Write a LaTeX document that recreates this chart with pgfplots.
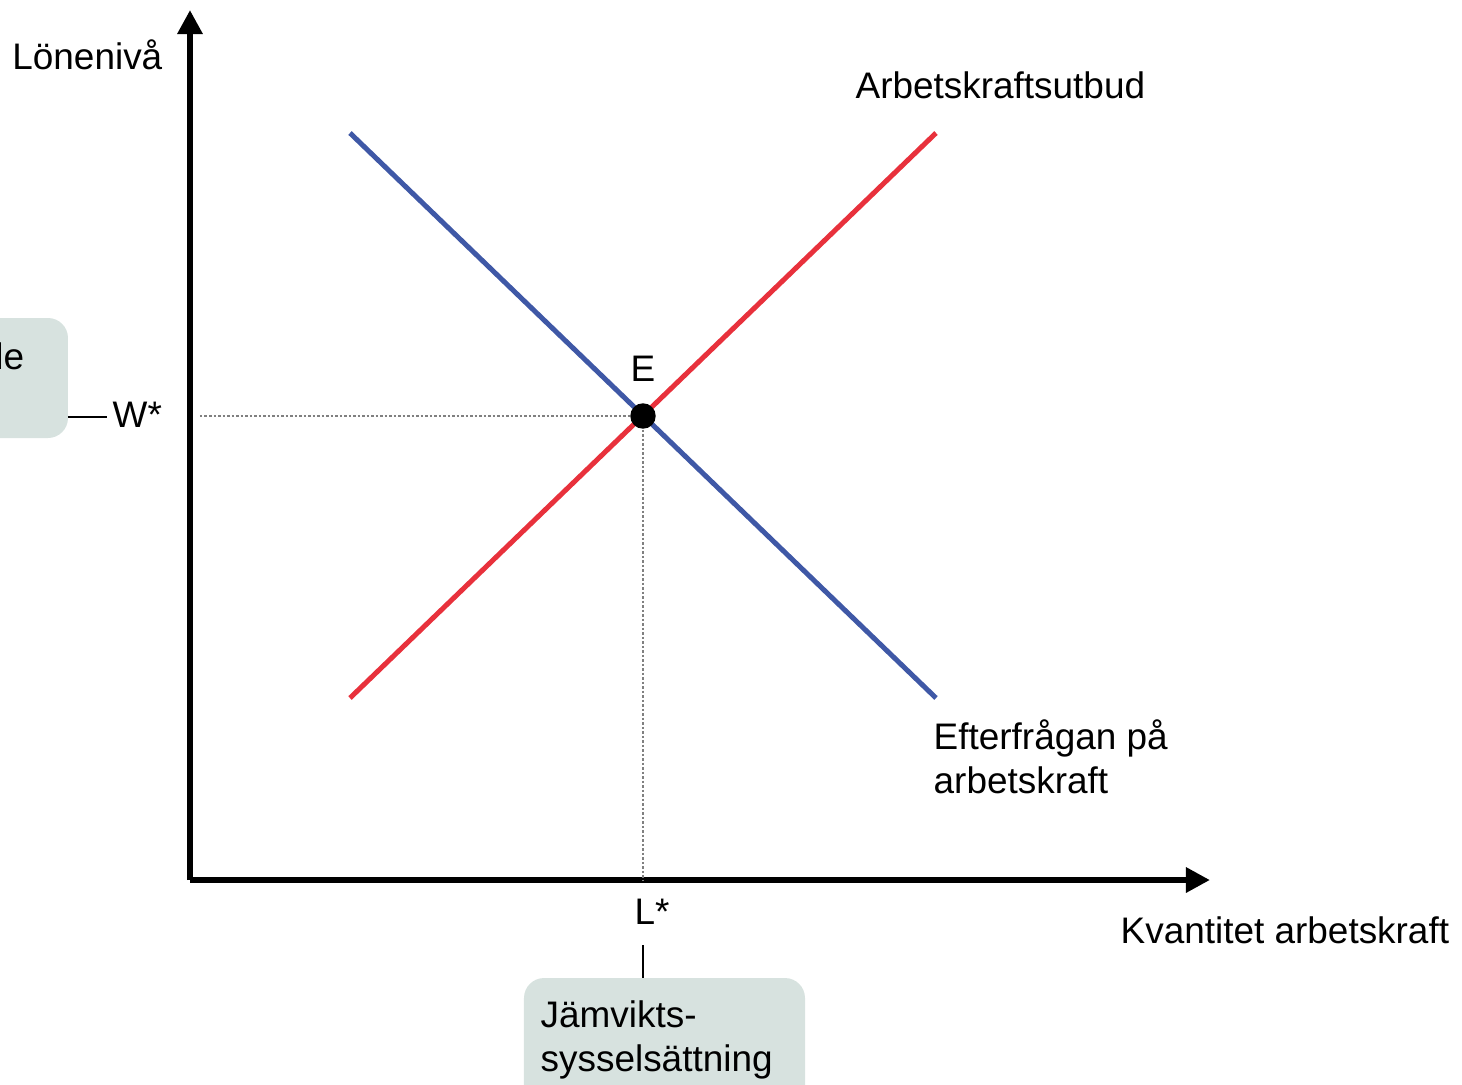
\documentclass[border=0pt]{standalone}
\usepackage{pgfplots}
\pgfplotsset{compat=1.18}
\usepackage{fontspec}
\setmainfont{Liberation Sans}
\usetikzlibrary{arrows.meta}
\definecolor{demand}{HTML}{3F58A6}
\definecolor{supply}{HTML}{E8313C}
\definecolor{boxfill}{HTML}{D7E2DF}
\begin{document}
\fontsize{10.5}{12.6}\selectfont
\begin{tikzpicture}
\begin{axis}[
  x=0.01cm, y=0.01cm,
  xmin=0, xmax=1020, ymin=0, ymax=870,
  axis lines=left,
  axis line style={line width=0.06cm, -{Triangle[length=0.24cm,width=0.24cm]}},
  ticks=none,
  clip=false,
]
% demand and supply
\addplot[demand, line width=0.05cm] coordinates {(160,747) (746,182)};
\addplot[supply, line width=0.05cm] coordinates {(160,182) (746,747)};
% guide lines
\addplot[gray, line width=0.025cm, dash pattern=on 0.025cm off 0.02cm] coordinates {(10,464) (453,464)};
\addplot[gray, line width=0.025cm, dash pattern=on 0.025cm off 0.02cm] coordinates {(453,464) (453,0)};
\addplot[black, only marks, mark=*, mark size=0.12cm] coordinates {(453,464)};

\node[anchor=east, inner sep=0pt] at (axis cs:-27,825) {Lönenivå};
\node[anchor=west, inner sep=0pt] at (axis cs:665,795) {Arbetskraftsutbud};
\node at (axis cs:453,511) {E};
\node[anchor=west, inner sep=0pt] at (axis cs:-78,465) {W*};
\node at (axis cs:462,-32) {L*};
\node[anchor=west, inner sep=0pt] at (axis cs:930,-50) {Kvantitet arbetskraft};
\node[anchor=west, align=left, inner sep=0pt] at (axis cs:743,123) {Efterfrågan på\\arbetskraft};

% left box
\fill[boxfill, rounded corners=0.2cm] (axis cs:-420,442) rectangle (axis cs:-122,562);
\draw[black, line width=0.012cm] (axis cs:-122,463) -- (axis cs:-83,463);
\node[anchor=north east, align=left, inner sep=0pt] at (axis cs:-165,538) {Lönen skulle\\bli W*};
% bottom box
\fill[boxfill, rounded corners=0.2cm] (axis cs:334,-98) rectangle (axis cs:615,-280);
\draw[black, line width=0.012cm] (axis cs:453,-65) -- (axis cs:453,-98);
\node[anchor=north west, align=left, inner sep=0pt] at (axis cs:350,-120) {Jämvikts-\\sysselsättning};

\coordinate (bl) at (axis cs:-190,-204);
\coordinate (tr) at (axis cs:1272,880);
\end{axis}
\pgfresetboundingbox
\path[use as bounding box] (bl) rectangle (tr);
\end{tikzpicture}
\end{document}
